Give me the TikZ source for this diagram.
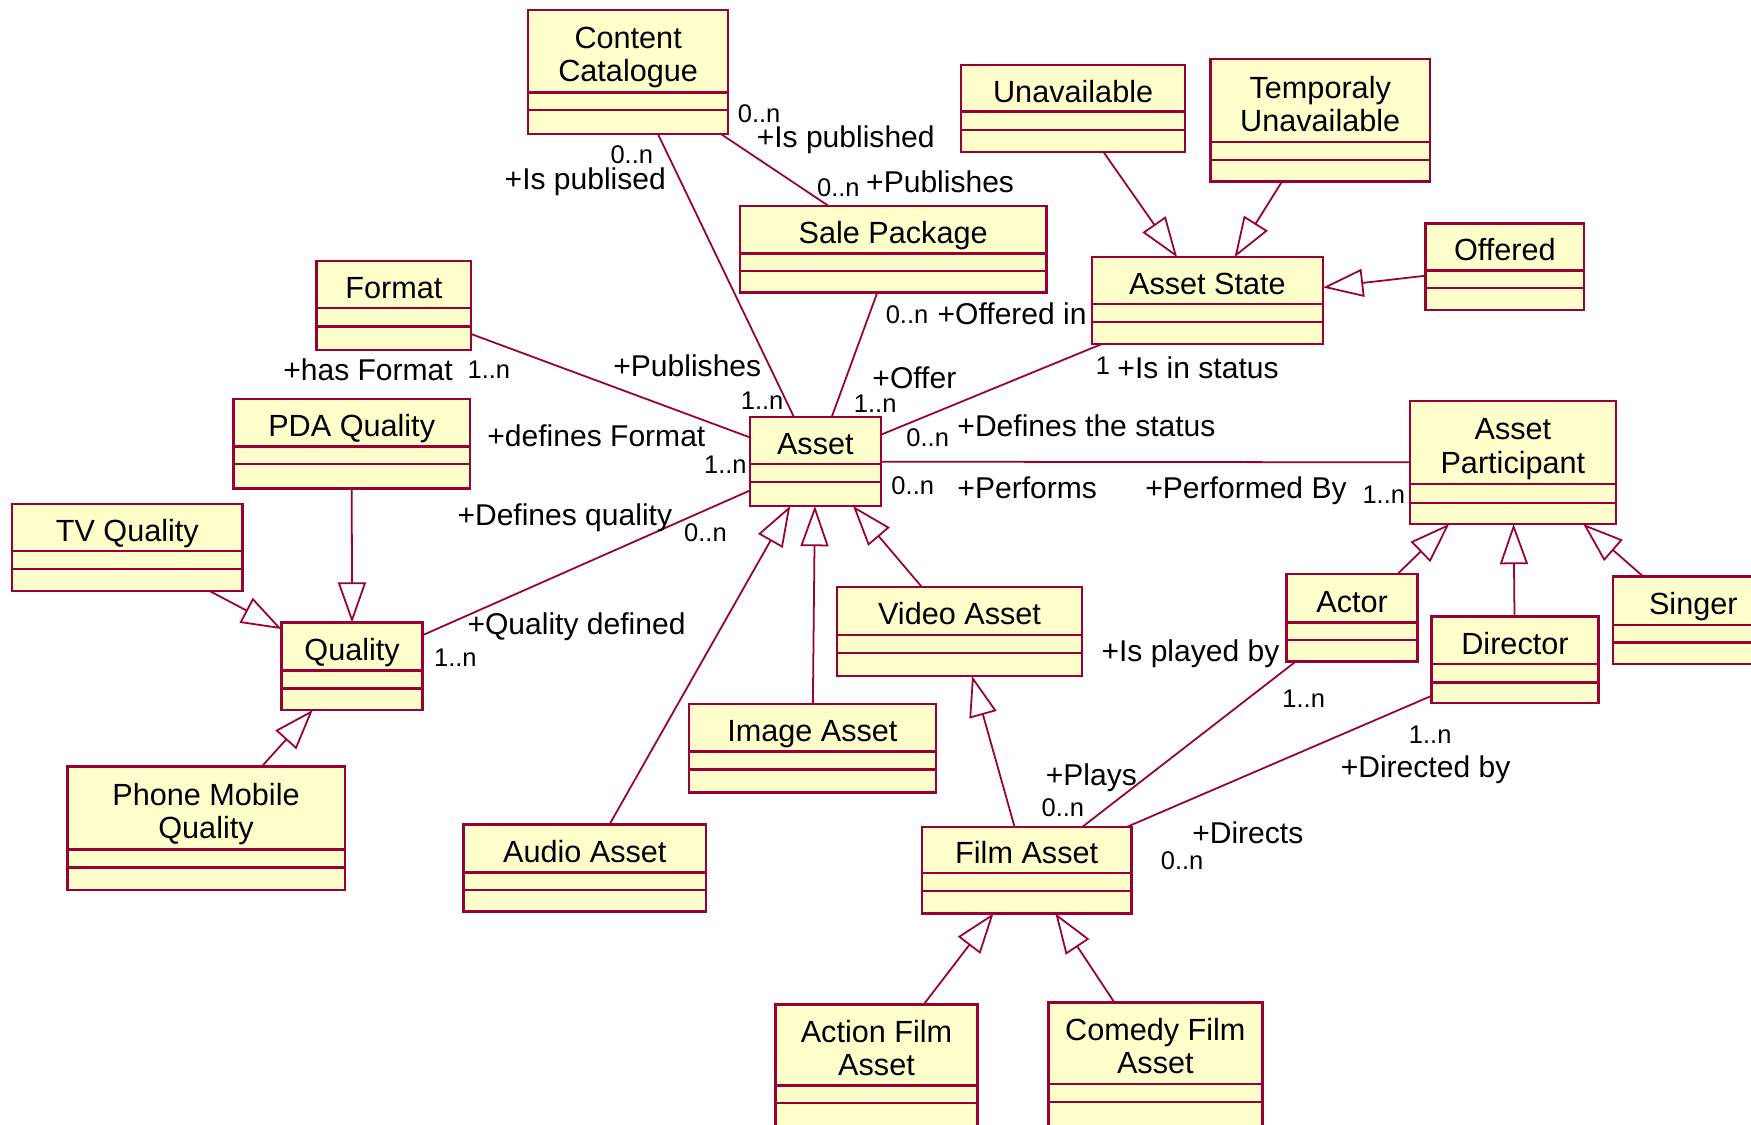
\documentclass[tikz,border=0pt]{standalone}
\usepackage{fontspec}
\setmainfont{Liberation Sans}
\usetikzlibrary{arrows.meta}

\definecolor{umlline}{RGB}{153,0,51}
\definecolor{umlfill}{RGB}{255,255,204}

\tikzset{
  classbox/.style={draw=umlline, fill=umlfill, line width=0.6pt, rectangle,
                   inner sep=0pt, outer sep=0pt},
  divider/.style={draw=umlline, line width=0.6pt},
  classname/.style={font=\fontsize{7.8}{8.5}\selectfont, align=center,
                    inner sep=0pt, text=black},
  role/.style={font=\fontsize{7.65}{8.5}\selectfont, inner sep=0pt, text=black},
  mult/.style={font=\fontsize{6.5}{7.5}\selectfont, inner sep=0pt, text=black},
  assoc/.style={draw=umlline, line width=0.45pt},
  gen/.style={draw=umlline, line width=0.45pt,
              -{Triangle[open, length=0.36cm, width=0.25cm]}},
}

% class box: name, left, top, right, bottom, first divider, second divider, title
\newcommand\umlclass[8]{%
  \node[classbox, minimum width={(#4-#2)*0.01cm}, minimum height={(#5-#3)*0.01cm}]
    (#1) at ({(#2+#4)/2},{(#3+#5)/2}) {};
  \draw[divider] (#2,#6) -- (#4,#6) (#2,#7) -- (#4,#7);
  \node[classname] (#1-name) at ({(#2+#4)/2},{(#3+#6)/2+6.5}) {#8};
}

\begin{document}
\begin{tikzpicture}[x=0.01cm,y=-0.01cm]
\useasboundingbox (0,0) rectangle (1568,1007);
\fill[white] (0,0) rectangle (1568,1007);
\begin{scope}
\clip (0,0) rectangle (1568,1007);

% classes
\umlclass{cc}{473}{9}{652}{120}{83}{98.5}{\strut Content\\\strut Catalogue}
\umlclass{sp}{662.7}{184.2}{937}{262}{227}{242.7}{\strut Sale Package}
\umlclass{unav}{860.8}{58.2}{1061.2}{136.4}{100}{116.4}{\strut Unavailable}
\umlclass{temp}{1083.9}{53.1}{1280.6}{162.7}{127.4}{143.3}{\strut Temporaly\\\strut Unavailable}
\umlclass{state}{977.7}{230.4}{1184.8}{308.1}{272.5}{288.6}{\strut Asset State}
\umlclass{offered}{1276.6}{200}{1418.7}{277.6}{242.4}{258.2}{\strut Offered}
\umlclass{format}{283.5}{233.6}{422}{313.4}{276.1}{292.5}{\strut Format}
\umlclass{pda}{209}{357.6}{420.9}{437.3}{400}{415.8}{\strut PDA Quality}
\umlclass{tv}{11}{451.3}{217}{529.2}{493.4}{509.5}{\strut TV Quality}
\umlclass{quality}{252.2}{557.6}{378.4}{635.8}{600.3}{616.7}{\strut Quality}
\umlclass{phone}{60.3}{686.5}{308.7}{797}{760.6}{777}{\strut Phone Mobile\\\strut Quality}
\umlclass{asset}{671.6}{373.7}{788.7}{453.1}{415.8}{431.9}{\strut Asset}
\umlclass{part}{1262.6}{359}{1447}{469.2}{433.7}{450.2}{\strut Asset\\\strut Participant}
\umlclass{video}{749.5}{525.4}{969}{605.4}{568.6}{584.5}{\strut Video Asset}
\umlclass{image}{617}{630.4}{838}{709.8}{673.1}{689}{\strut Image Asset}
\umlclass{audio}{415.1}{738.2}{632.3}{816.4}{781.2}{797}{\strut Audio Asset}
\umlclass{actor}{1152.2}{514}{1269.5}{592.5}{557.6}{573.1}{\strut Actor}
\umlclass{director}{1282}{552.2}{1431.3}{629.8}{594.9}{611.3}{\strut Director}
\umlclass{singer}{1444.7}{516.4}{1588}{594.6}{559.7}{575.5}{\strut Singer}
\umlclass{film}{825.4}{740.3}{1013.4}{817.9}{782}{798}{\strut Film Asset}
\umlclass{action}{694.6}{899.4}{875.2}{1010}{972}{988}{\strut Action Film\\\strut Asset}
\umlclass{comedy}{938.8}{897.6}{1130.4}{1008.5}{970.7}{986.6}{\strut Comedy Film\\\strut Asset}

% associations
\draw[assoc] (cc) -- (asset);
\draw[assoc] (cc) -- (sp);
\draw[assoc] (sp) -- (asset);
\draw[assoc] (format) -- (asset);
\draw[assoc] (state) -- (asset);
\draw[assoc] (asset) -- (part);
\draw[assoc] (quality) -- (asset);
\draw[assoc] (actor) -- (film);
\draw[assoc] (director) -- (film);

% generalizations
\draw[gen] (unav) -- (state);
\draw[gen] (temp) -- (state);
\draw[gen] (offered) -- (state);
\draw[gen] (pda) -- (quality);
\draw[gen] (tv) -- (quality);
\draw[gen] (phone) -- (quality);
\draw[gen] (audio) -- (asset);
\draw[gen] (image) -- (asset);
\draw[gen] (video) -- (asset);
\draw[gen] (film) -- (video);
\draw[gen] (actor) -- (part);
\draw[gen] (director) -- (part);
\draw[gen] (singer) -- (part);
\draw[gen] (action) -- (film);
\draw[gen] (comedy) -- (film);

% role names and multiplicities
\node[mult, anchor=base west] (m-cc-sp) at (660,110) {0..n};
\node[role, anchor=base west] (r-cc-sp) at (677,132) {+Is published};
\node[mult, anchor=base west] (m-cc-a) at (546,146) {0..n};
\node[role, anchor=base east] (r-cc-a) at (597,170) {+Is publised};
\node[mult, anchor=base west] (m-sp-cc) at (731,176) {0..n};
\node[role, anchor=base west] (r-sp-cc) at (775,172) {+Publishes};
\node[mult, anchor=base west] (m-sp-a) at (792.5,289.5) {0..n};
\node[role, anchor=base west] (r-sp-a) at (839,291) {+Offered in};
\node[role, anchor=base west] (r-fmt) at (253,341) {+has Format};
\node[mult, anchor=base west] (m-fmt) at (418,339) {1..n};
\node[role, anchor=base west] (r-a-cc) at (548.6,337) {+Publishes};
\node[mult, anchor=base west] (m-a-cc) at (662.7,367) {1..n};
\node[role, anchor=base west] (r-a-sp) at (780.6,347.5) {+Offer};
\node[mult, anchor=base west] (m-a-sp) at (764,369) {1..n};
\node[role, anchor=base west] (r-a-fmt) at (435.8,400) {+defines Format};
\node[mult, anchor=base west] (m-a-fmt) at (629.8,424) {1..n};
\node[mult, anchor=base west] (m-a-st) at (811,399.5) {0..n};
\node[role, anchor=base west] (r-a-st) at (856.7,391) {+Defines the status};
\node[mult, anchor=base west] (m-st) at (980.6,335) {1};
\node[role, anchor=base west] (r-st) at (1000,339) {+Is in status};
\node[mult, anchor=base west] (m-a-p) at (797.6,443) {0..n};
\node[role, anchor=base west] (r-a-p) at (856.7,446) {+Performs};
\node[role, anchor=base west] (r-p-a) at (1025,446) {+Performed By};
\node[mult, anchor=base west] (m-p-a) at (1219.4,450.7) {1..n};
\node[role, anchor=base west] (r-a-q) at (409,471) {+Defines quality};
\node[mult, anchor=base west] (m-a-q) at (612,485) {0..n};
\node[role, anchor=base west] (r-q-a) at (418,568) {+Quality defined};
\node[mult, anchor=base west] (m-q-a) at (388,597) {1..n};
\node[role, anchor=base west] (r-act) at (985.7,592) {+Is played by};
\node[mult, anchor=base west] (m-act) at (1147.7,634) {1..n};
\node[mult, anchor=base west] (m-dir) at (1261,666) {1..n};
\node[role, anchor=base west] (r-dir) at (1200,696) {+Directed by};
\node[role, anchor=base west] (r-plays) at (935.8,703) {+Plays};
\node[mult, anchor=base west] (m-plays) at (932,731) {0..n};
\node[role, anchor=base west] (r-directs) at (1067,755) {+Directs};
\node[mult, anchor=base west] (m-directs) at (1038.8,778.5) {0..n};
\end{scope}
\end{tikzpicture}
\end{document}
